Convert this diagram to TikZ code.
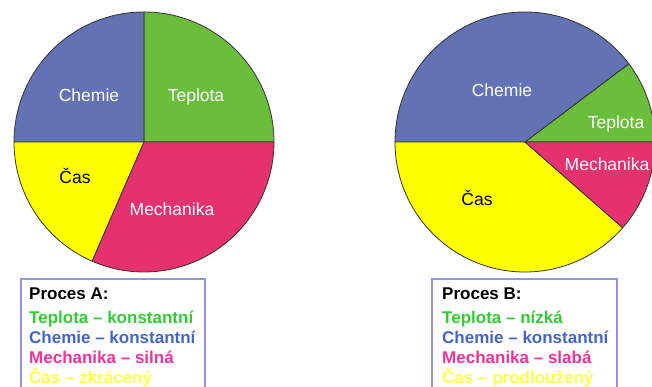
\documentclass[tikz,border=0pt]{standalone}
\usepackage{fontspec}
\setmainfont{Liberation Sans}
\definecolor{chemie}{HTML}{6272B4}
\definecolor{teplota}{HTML}{6BBE3C}
\definecolor{mechanika}{HTML}{E5316E}
\definecolor{cas}{HTML}{FFFF00}
\definecolor{tepltext}{HTML}{33CC33}
\definecolor{chemtext}{HTML}{4466CC}
\definecolor{mechtext}{HTML}{EE3399}
\definecolor{castext}{HTML}{FFFF44}
\definecolor{legframe}{HTML}{9494DC}
\begin{document}
\begin{tikzpicture}[x=1pt,y=1pt,
    slice/.style={draw=black!80,line width=0.8pt},
    lbl/.style={font=\fontsize{17.5}{20}\selectfont,anchor=base,text=white,inner sep=0pt},
    legbox/.style={draw=legframe,line width=1.2pt},
    legtext/.style={font=\fontsize{17}{20}\selectfont\bfseries,anchor=base west,inner sep=0pt}]
    \useasboundingbox (0,0) rectangle (652,386);
    % Proces A
    \coordinate (ca) at (144,244);
    \filldraw[slice,fill=teplota] (ca) -- ++(0:130) arc[start angle=0,end angle=90,radius=130] -- cycle;
    \filldraw[slice,fill=chemie] (ca) -- ++(90:130) arc[start angle=90,end angle=180,radius=130] -- cycle;
    \filldraw[slice,fill=cas] (ca) -- ++(180:130) arc[start angle=180,end angle=246.5,radius=130] -- cycle;
    \filldraw[slice,fill=mechanika] (ca) -- ++(246.5:130) arc[start angle=246.5,end angle=360,radius=130] -- cycle;
    \node[lbl] (chemA) at (89,284) {Chemie};
    \node[lbl] (teplA) at (196,284) {Teplota};
    \node[lbl,text=black] (casA) at (75,203) {Čas};
    \node[lbl] (mechA) at (172,171) {Mechanika};
    % Proces B
    \coordinate (cb) at (525,244);
    \filldraw[slice,fill=teplota] (cb) -- ++(0:130) arc[start angle=0,end angle=37,radius=130] -- cycle;
    \filldraw[slice,fill=chemie] (cb) -- ++(37:130) arc[start angle=37,end angle=180,radius=130] -- cycle;
    \filldraw[slice,fill=cas] (cb) -- ++(180:130) arc[start angle=180,end angle=318.7,radius=130] -- cycle;
    \filldraw[slice,fill=mechanika] (cb) -- ++(318.7:130) arc[start angle=318.7,end angle=360,radius=130] -- cycle;
    \node[lbl] (chemB) at (502,289) {Chemie};
    \node[lbl] (teplB) at (616,258) {Teplota};
    \node[lbl] (mechB) at (607,216) {Mechanika};
    \node[lbl,text=black] (casB) at (477,181) {Čas};
    % legendy
    \draw[legbox] (21,-10) rectangle (205,107);
    \node[legtext] (procA) at (29,87) {Proces A:};
    \node[legtext,text=tepltext] (tA) at (29,63) {Teplota – konstantní};
    \node[legtext,text=chemtext] (cA) at (29,43) {Chemie – konstantní};
    \node[legtext,text=mechtext] (mA) at (29,23) {Mechanika – silná};
    \node[legtext,text=castext] (sA) at (29,3) {Čas – zkrácený};
    \draw[legbox] (432,-10) rectangle (617,107);
    \node[legtext] (procB) at (442,87) {Proces B:};
    \node[legtext,text=tepltext] (tB) at (442,63) {Teplota – nízká};
    \node[legtext,text=chemtext] (cB) at (442,43) {Chemie – konstantní};
    \node[legtext,text=mechtext] (mB) at (442,23) {Mechanika – slabá};
    \node[legtext,text=castext] (sB) at (442,3) {Čas – prodloužený};
\end{tikzpicture}
\end{document}
